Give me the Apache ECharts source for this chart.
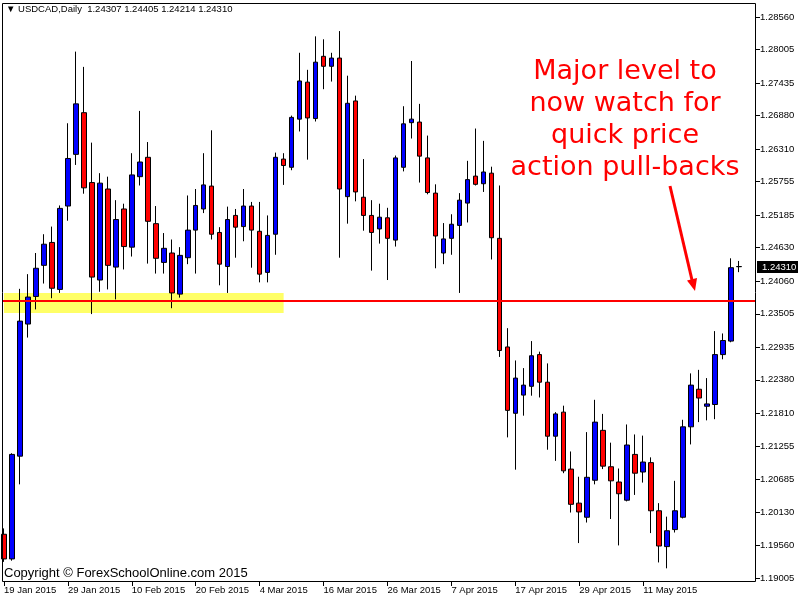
<!DOCTYPE html>
<html>
<head>
<meta charset="utf-8">
<title>USDCAD Daily</title>
<script src="https://cdn.jsdelivr.net/npm/echarts@6/dist/echarts.min.js"></script>
<style>
html, body { margin: 0; padding: 0; background: #ffffff; }
#chart { width: 800px; height: 600px; }
</style>
</head>
<body>
<div id="chart"></div>
<script>
// trading days, last two are empty space on the right like MT4 chart shift
var dates = [
  '19 Jan 2015', '20 Jan 2015', '21 Jan 2015', '22 Jan 2015', '23 Jan 2015', '26 Jan 2015', '27 Jan 2015', '28 Jan 2015', '29 Jan 2015', '30 Jan 2015',
  '2 Feb 2015', '3 Feb 2015', '4 Feb 2015', '5 Feb 2015', '6 Feb 2015', '9 Feb 2015', '10 Feb 2015', '11 Feb 2015', '12 Feb 2015', '13 Feb 2015',
  '16 Feb 2015', '17 Feb 2015', '18 Feb 2015', '19 Feb 2015', '20 Feb 2015', '23 Feb 2015', '24 Feb 2015', '25 Feb 2015', '26 Feb 2015', '27 Feb 2015',
  '2 Mar 2015', '3 Mar 2015', '4 Mar 2015', '5 Mar 2015', '6 Mar 2015', '9 Mar 2015', '10 Mar 2015', '11 Mar 2015', '12 Mar 2015', '13 Mar 2015',
  '16 Mar 2015', '17 Mar 2015', '18 Mar 2015', '19 Mar 2015', '20 Mar 2015', '23 Mar 2015', '24 Mar 2015', '25 Mar 2015', '26 Mar 2015', '27 Mar 2015',
  '30 Mar 2015', '31 Mar 2015', '1 Apr 2015', '2 Apr 2015', '3 Apr 2015', '6 Apr 2015', '7 Apr 2015', '8 Apr 2015', '9 Apr 2015', '10 Apr 2015',
  '13 Apr 2015', '14 Apr 2015', '15 Apr 2015', '16 Apr 2015', '17 Apr 2015', '20 Apr 2015', '21 Apr 2015', '22 Apr 2015', '23 Apr 2015', '24 Apr 2015',
  '27 Apr 2015', '28 Apr 2015', '29 Apr 2015', '30 Apr 2015', '1 May 2015', '4 May 2015', '5 May 2015', '6 May 2015', '7 May 2015', '8 May 2015',
  '11 May 2015', '12 May 2015', '13 May 2015', '14 May 2015', '15 May 2015', '18 May 2015', '19 May 2015', '20 May 2015', '21 May 2015', '22 May 2015',
  '25 May 2015', '26 May 2015', '27 May 2015', '28 May 2015', '29 May 2015'
]

var open = [
  1.1975, 1.1933, 1.2108, 1.2333, 1.2380, 1.2433, 1.2472, 1.2392, 1.2534, 1.2622,
  1.2693, 1.2574, 1.2408, 1.2563, 1.2430, 1.2529, 1.2464, 1.2584, 1.2617, 1.2504,
  1.2438, 1.2454, 1.2384, 1.2446, 1.2493, 1.2529, 1.2568, 1.2489, 1.2431, 1.2518,
  1.2499, 1.2534, 1.2491, 1.2421, 1.2486, 1.2614, 1.2600, 1.2682, 1.2745, 1.2683,
  1.2789, 1.2772, 1.2786, 1.2550, 1.2713, 1.2549, 1.2518, 1.2495, 1.2514, 1.2476,
  1.2600, 1.2676, 1.2677, 1.2616, 1.2556, 1.2454, 1.2479, 1.2501, 1.2539, 1.2585,
  1.2572, 1.2590, 1.2479, 1.2294, 1.2181, 1.2212, 1.2227, 1.2281, 1.2234, 1.2142,
  1.2183, 1.2086, 1.2028, 1.2004, 1.2067, 1.2152, 1.2090, 1.2064, 1.2033, 1.2111,
  1.2081, 1.2097, 1.2015, 1.1954, 1.1983, 1.2004, 1.2158, 1.2222, 1.2193, 1.2196,
  1.2281, 1.2304, 1.24307
]
var high = [
  1.1985, 1.2113, 1.2393, 1.2418, 1.2454, 1.2486, 1.2499, 1.2535, 1.2675, 1.2797,
  1.2771, 1.2642, 1.2590, 1.2584, 1.2544, 1.2538, 1.2624, 1.2696, 1.2643, 1.2534,
  1.2488, 1.2477, 1.2464, 1.2552, 1.2563, 1.2624, 1.2663, 1.2498, 1.2533, 1.2529,
  1.2563, 1.2541, 1.2541, 1.2518, 1.2625, 1.2624, 1.2688, 1.2795, 1.2766, 1.2823,
  1.2818, 1.2795, 1.2832, 1.2756, 1.2722, 1.2614, 1.2544, 1.2538, 1.2531, 1.2620,
  1.2704, 1.2781, 1.2708, 1.2654, 1.2571, 1.2505, 1.2520, 1.2556, 1.2611, 1.2666,
  1.2645, 1.2601, 1.2569, 1.2326, 1.2271, 1.2258, 1.2304, 1.2286, 1.2266, 1.2183,
  1.2194, 1.2116, 1.2073, 1.2149, 1.2204, 1.2180, 1.2131, 1.2087, 1.2162, 1.2145,
  1.2143, 1.2106, 1.2028, 1.2005, 1.2066, 1.2170, 1.2249, 1.2255, 1.2241, 1.2321,
  1.2317, 1.2445, 1.24405
]
var low = [
  1.1928, 1.1930, 1.2060, 1.2310, 1.2358, 1.2402, 1.2377, 1.2386, 1.2509, 1.2604,
  1.2555, 1.2350, 1.2388, 1.2392, 1.2375, 1.2426, 1.2448, 1.2569, 1.2436, 1.2419,
  1.2419, 1.2360, 1.2378, 1.2435, 1.2419, 1.2522, 1.2477, 1.2399, 1.2386, 1.2446,
  1.2474, 1.2429, 1.2404, 1.2404, 1.2451, 1.2570, 1.2595, 1.2661, 1.2613, 1.2678,
  1.2733, 1.2746, 1.2446, 1.2504, 1.2542, 1.2492, 1.2424, 1.2470, 1.2408, 1.2465,
  1.2593, 1.2649, 1.2574, 1.2554, 1.2428, 1.2435, 1.2451, 1.2386, 1.2506, 1.2569,
  1.2558, 1.2443, 1.2277, 1.2140, 1.2085, 1.2177, 1.2211, 1.2208, 1.2119, 1.2100,
  1.2079, 1.2012, 1.1960, 1.1995, 1.2060, 1.2086, 1.2001, 1.1956, 1.2031, 1.2042,
  1.2063, 1.1977, 1.1927, 1.1917, 1.1978, 1.2002, 1.2128, 1.2166, 1.2169, 1.2171,
  1.2273, 1.2302, 1.24214
]
var close = [
  1.1933, 1.2111, 1.2338, 1.2379, 1.2428, 1.2469, 1.2394, 1.2530, 1.2615, 1.2708,
  1.2565, 1.2413, 1.2573, 1.2433, 1.2511, 1.2465, 1.2587, 1.2609, 1.2508, 1.2445,
  1.2462, 1.2386, 1.2450, 1.2493, 1.2535, 1.2570, 1.2486, 1.2435, 1.2511, 1.2498,
  1.2534, 1.2493, 1.2418, 1.2484, 1.2617, 1.2603, 1.2685, 1.2747, 1.2684, 1.2779,
  1.2772, 1.2786, 1.2563, 1.2709, 1.2558, 1.2518, 1.2489, 1.2515, 1.2479, 1.2616,
  1.2674, 1.2682, 1.2619, 1.2557, 1.2483, 1.2478, 1.2503, 1.2544, 1.2579, 1.2571,
  1.2592, 1.2480, 1.2288, 1.2186, 1.2241, 1.2229, 1.2279, 1.2234, 1.2142, 1.2180,
  1.2083, 1.2026, 1.2013, 1.2072, 1.2166, 1.2091, 1.2066, 1.2044, 1.2127, 1.2079,
  1.2098, 1.2015, 1.1955, 1.1981, 1.2015, 1.2158, 1.2229, 1.2207, 1.2197, 1.2281,
  1.2305, 1.2429, 1.24310
]

var priceTicks = [
  1.19005, 1.19560, 1.20130, 1.20685, 1.21255, 1.21810, 1.22380, 1.22935, 1.23505,
  1.24060, 1.24630, 1.25185, 1.25755, 1.26310, 1.26880, 1.27435, 1.28005, 1.28560
]
var priceMin = 1.18937
var priceMax = 1.28798

// support zone + level line drawn on the chart
var levelPrice = 1.2372
var zoneTop = 1.2386
var zoneBottom = 1.2352
var zoneFrom = '19 Jan 2015'
var zoneTo = '9 Mar 2015'

var note = 'Major level to\nnow watch for\nquick price\naction pull-backs'

var last = open.length - 1
var header = '\u25BC USDCAD,Daily  ' + open[last].toFixed(5) + ' ' + high[last].toFixed(5) + ' ' +
  low[last].toFixed(5) + ' ' + close[last].toFixed(5)

var candles = open.map(function (o, i) {
  return [o, close[i], low[i], high[i]]
})

var axisFont = 'Liberation Sans, Arial, sans-serif'

var chart = echarts.init(document.getElementById('chart'))
var option = {
  animation: false,
  backgroundColor: '#ffffff',
  title: {
    text: header,
    left: 6,
    top: 4,
    padding: 0,
    textStyle: { fontSize: 9.5, fontWeight: 'normal', color: '#000000', fontFamily: axisFont }
  },
  grid: { left: 0, right: 41, top: 3, bottom: 18 },
  xAxis: {
    type: 'category',
    data: dates,
    boundaryGap: true,
    axisLine: { show: false },
    axisTick: { show: true, interval: 7, alignWithLabel: true, length: 4, lineStyle: { color: '#000000' } },
    axisLabel: {
      interval: 7, align: 'left', margin: 3, color: '#000000',
      fontSize: 9.5, fontFamily: axisFont, showMaxLabel: false
    },
    splitLine: { show: false }
  },
  yAxis: {
    type: 'value',
    position: 'right',
    offset: -3,
    min: priceMin,
    max: priceMax,
    axisLine: { show: false },
    axisTick: { show: true, customValues: priceTicks, length: 4, lineStyle: { color: '#000000' } },
    axisLabel: {
      customValues: priceTicks, margin: 4, color: '#000000', fontSize: 9.5, fontFamily: axisFont,
      formatter: function (v) { return v.toFixed(5) }
    },
    splitLine: { show: false }
  },
  series: [
    {
      // holds the yellow support zone, drawn under the candles
      name: 'zone',
      type: 'line',
      data: [],
      z: 1,
      markArea: {
        silent: true,
        itemStyle: { color: '#ffff66' },
        data: [[{ xAxis: zoneFrom, yAxis: zoneTop }, { xAxis: zoneTo, yAxis: zoneBottom }]]
      }
    },
    {
      name: 'USDCAD',
      type: 'candlestick',
      data: candles,
      barWidth: 5,
      z: 2,
      itemStyle: {
        color: '#0000ff',
        color0: '#ff0000',
        borderColor: '#000000',
        borderColor0: '#000000',
        borderWidth: 1
      }
    }
  ],
  graphic: [
    {
      type: 'rect',
      z: 100,
      silent: true,
      shape: { x: 2.5, y: 3.5, width: 753, height: 578 },
      style: { fill: 'none', stroke: '#000000', lineWidth: 1 }
    },
    {
      type: 'text',
      z: 100,
      left: 4,
      top: 567,
      style: { text: 'Copyright \u00A9 ForexSchoolOnline.com 2015', fill: '#000000', font: '13px Liberation Sans, Arial, sans-serif' }
    },
    {
      type: 'text',
      z: 100,
      x: 625,
      y: 120,
      style: {
        text: note,
        fill: '#ff0000',
        font: '27px DejaVu Sans, Verdana, sans-serif',
        lineHeight: 32,
        align: 'center',
        verticalAlign: 'middle'
      }
    },
    {
      type: 'line',
      z: 100,
      shape: { x1: 670, y1: 186, x2: 692, y2: 280 },
      style: { stroke: '#ff0000', lineWidth: 3 }
    },
    {
      type: 'polygon',
      z: 100,
      shape: { points: [[697, 278], [687, 280.5], [695, 291]] },
      style: { fill: '#ff0000' }
    }
  ]
}
chart.setOption(option)

// level line and bid price tag, placed through the y axis scale
var levelY = Math.round(chart.convertToPixel({ yAxisIndex: 0 }, levelPrice))
var bidY = Math.round(chart.convertToPixel({ yAxisIndex: 0 }, close[last]))
chart.setOption({
  graphic: [
    {
      id: 'level',
      type: 'line',
      z: 50,
      silent: true,
      shape: { x1: 3, y1: levelY, x2: 756, y2: levelY },
      style: { stroke: '#ff0000', lineWidth: 2 }
    },
    {
      id: 'bidTag',
      type: 'rect',
      z: 100,
      silent: true,
      shape: { x: 757, y: bidY - 6, width: 41, height: 12 },
      style: { fill: '#000000' }
    },
    {
      id: 'bidText',
      type: 'text',
      z: 101,
      silent: true,
      x: 762,
      y: bidY,
      style: {
        text: close[last].toFixed(5),
        fill: '#ffffff',
        font: '9.5px Liberation Sans, Arial, sans-serif',
        verticalAlign: 'middle'
      }
    }
  ]
})
</script>
</body>
</html>
